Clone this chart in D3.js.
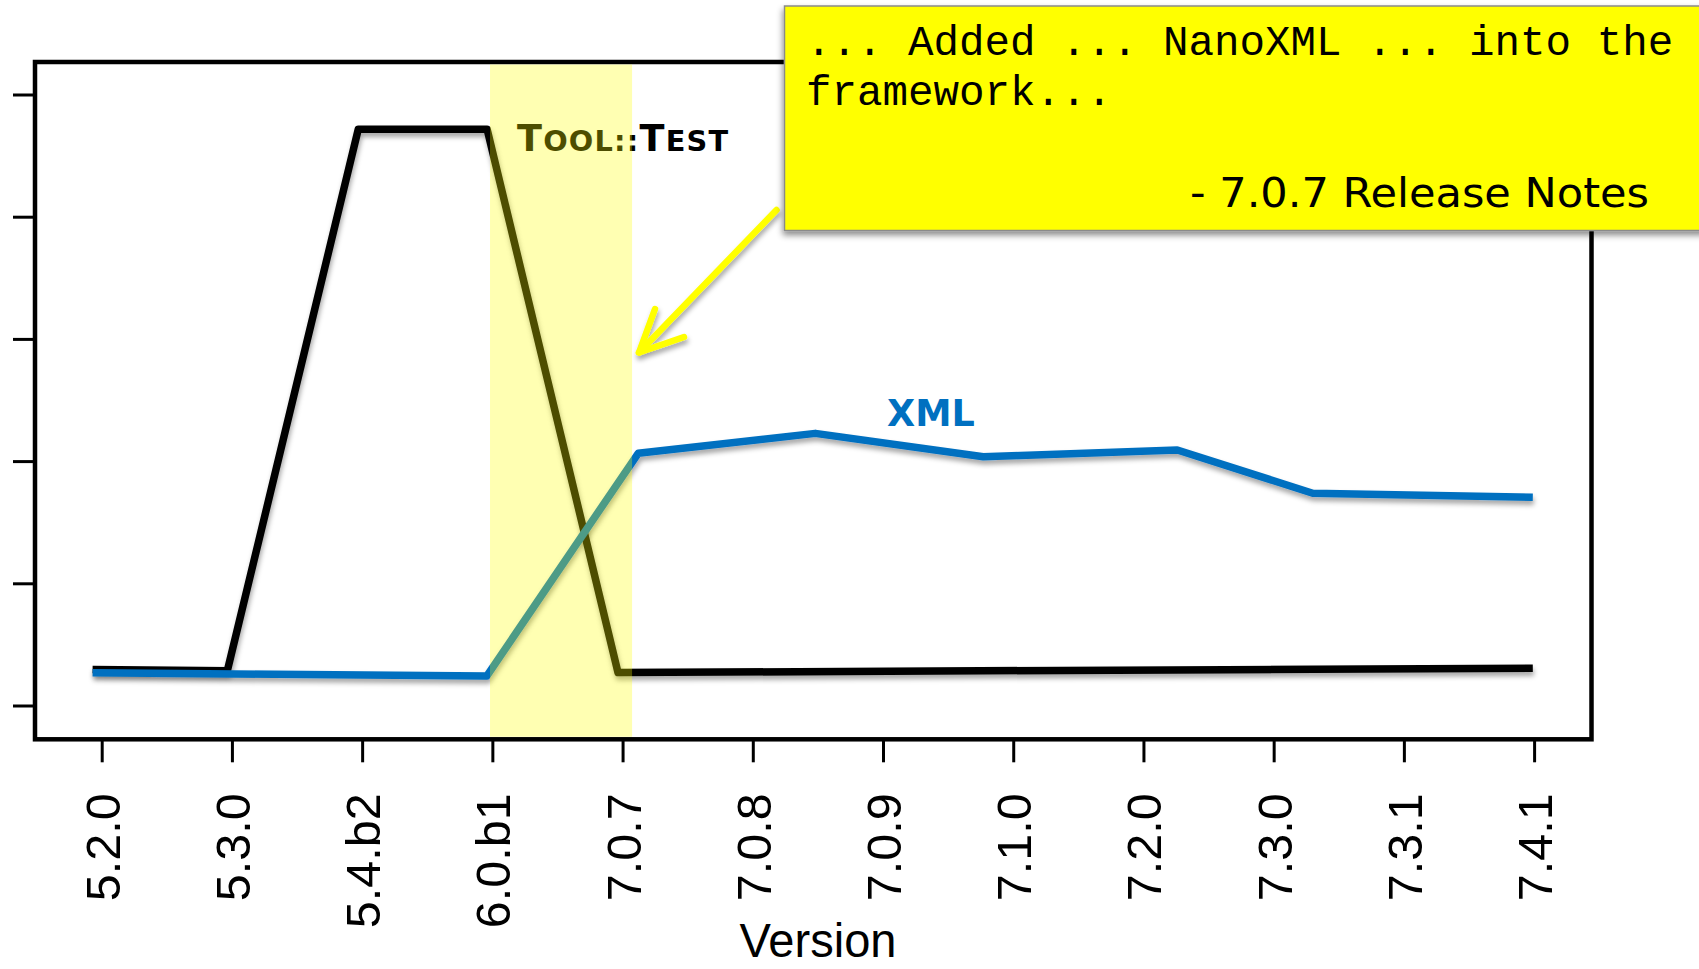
<!DOCTYPE html>
<html>
<head>
<meta charset="utf-8">
<script src="https://cdn.jsdelivr.net/npm/d3@7"></script>
<style>
  html, body { margin: 0; padding: 0; background: #ffffff; }
  svg { display: block; }
</style>
</head>
<body>
<script>
// Release versions along the x axis
const versions = ["5.2.0", "5.3.0", "5.4.b2", "6.0.b1", "7.0.7", "7.0.8",
                  "7.0.9", "7.1.0", "7.2.0", "7.3.0", "7.3.1", "7.4.1"];

// Unlabelled y-axis tick values
const yTicks = [0, 10, 20, 30, 40, 50];

// Tool::Test series: position along the version axis and value
const toolTestPos = [-0.07, 0.965, 1.97, 2.96, 3.965, 10.99];
const toolTestVal = [2.95, 2.85, 47.15, 47.15, 2.7, 3.05];

// XML series: position along the version axis and value
const xmlPos = [-0.07, 2.957, 4.12, 5.48, 6.77, 8.26, 9.30, 10.99];
const xmlVal = [2.68, 2.41, 20.64, 22.27, 20.36, 20.91, 17.37, 17.04];

// Highlighted span between 6.0.b1 and 7.0.7
const highlightSpan = [2.982, 4.073];

const W = 1699, H = 969;
const frame = { left: 35, top: 62, right: 1591.5, bottom: 739.3 };

const svg = d3.select("body").append("svg")
  .attr("width", W).attr("height", H);

const defs = svg.append("defs");
const shadow = defs.append("filter").attr("id", "lineShadow")
  .attr("x", "-5%").attr("y", "-10%").attr("width", "110%").attr("height", "130%");
shadow.append("feDropShadow").attr("dx", 1).attr("dy", 4)
  .attr("stdDeviation", 2.5).attr("flood-color", "#000").attr("flood-opacity", 0.35);

const boxShadow = defs.append("filter").attr("id", "boxShadow")
  .attr("x", "-5%").attr("y", "-10%").attr("width", "110%").attr("height", "130%");
boxShadow.append("feDropShadow").attr("dx", -1).attr("dy", 4)
  .attr("stdDeviation", 3).attr("flood-color", "#000").attr("flood-opacity", 0.45);

const x = d3.scaleLinear().domain([0, versions.length - 1]).range([101.7, 1534.1]);
const y = d3.scaleLinear().domain([0, 50]).range([705.5, 94.5]);

// Plot frame
svg.append("rect")
  .attr("x", frame.left).attr("y", frame.top)
  .attr("width", frame.right - frame.left).attr("height", frame.bottom - frame.top)
  .attr("fill", "#fff").attr("stroke", "#000").attr("stroke-width", 4.5);

// Left axis: ticks only
const yAxis = d3.axisLeft(y).tickValues(yTicks).tickSize(22).tickFormat(() => "");
const gy = svg.append("g").attr("transform", `translate(${frame.left},0)`).call(yAxis);
gy.select(".domain").remove();
gy.selectAll(".tick line").attr("stroke", "#000").attr("stroke-width", 3);

// Bottom axis with rotated version labels
const xAxis = d3.axisBottom(x).tickValues(d3.range(versions.length))
  .tickSize(23).tickFormat(i => versions[i]);
const gx = svg.append("g").attr("transform", `translate(0,${frame.bottom})`).call(xAxis);
gx.select(".domain").remove();
gx.selectAll(".tick line").attr("stroke", "#000").attr("stroke-width", 3);
gx.selectAll(".tick text")
  .attr("font-family", "'Liberation Sans', Arial, sans-serif")
  .attr("font-size", 48.5)
  .attr("fill", "#000")
  .attr("text-anchor", "end")
  .attr("transform", "translate(0,54) rotate(-90)")
  .attr("x", 0).attr("y", 0).attr("dy", "0.36em");

svg.append("text")
  .attr("x", 818).attr("y", 957)
  .attr("text-anchor", "middle")
  .attr("font-family", "'Liberation Sans', Arial, sans-serif")
  .attr("font-size", 48)
  .attr("textLength", 157).attr("lengthAdjust", "spacingAndGlyphs")
  .text("Version");

// Series lines
const line = d3.line().x(d => x(d[0])).y(d => y(d[1])).curve(d3.curveLinear);

const toolTest = toolTestPos.map((p, i) => [p, toolTestVal[i]]);
const xml = xmlPos.map((p, i) => [p, xmlVal[i]]);

svg.append("path").datum(toolTest)
  .attr("d", line).attr("fill", "none")
  .attr("stroke", "#000").attr("stroke-width", 7.5)
  .attr("stroke-linejoin", "round")
  .attr("filter", "url(#lineShadow)");

svg.append("path").datum(xml)
  .attr("d", line).attr("fill", "none")
  .attr("stroke", "#0070c0").attr("stroke-width", 7.5)
  .attr("stroke-linejoin", "round")
  .attr("filter", "url(#lineShadow)");

// Series labels
const tt = svg.append("text")
  .attr("x", 517).attr("y", 150.5)
  .attr("font-family", "'DejaVu Sans', Verdana, sans-serif")
  .attr("font-weight", "bold")
  .attr("letter-spacing", 1.2)
  .attr("fill", "#000");
[["T", 36.6], ["OOL::", 28.8], ["T", 36.6], ["EST", 28.8]].forEach(([s, fs]) => {
  tt.append("tspan").attr("font-size", fs).text(s);
});

svg.append("text")
  .attr("x", 887).attr("y", 425.7)
  .attr("font-family", "'DejaVu Sans', Verdana, sans-serif")
  .attr("font-weight", "bold")
  .attr("font-size", 36.5)
  .attr("fill", "#0070c0")
  .text("XML");

// Translucent highlight over the 6.0.b1 – 7.0.7 span
svg.append("rect")
  .attr("x", x(highlightSpan[0])).attr("y", frame.top + 2.5)
  .attr("width", x(highlightSpan[1]) - x(highlightSpan[0]))
  .attr("height", frame.bottom - frame.top - 5)
  .attr("fill", "rgb(255,255,0)").attr("fill-opacity", 0.3);

// Callout arrow
const arrow = svg.append("g").attr("filter", "url(#lineShadow)")
  .attr("stroke", "#ffff00").attr("stroke-width", 6.5)
  .attr("stroke-linecap", "round").attr("stroke-linejoin", "round").attr("fill", "none");
arrow.append("path").attr("d", "M776.5,210 L639,352.5");
arrow.append("path").attr("d", "M655,309 L639,352.5 L684,337");

// Release-note callout box
const box = svg.append("g");
box.append("rect")
  .attr("x", 784.5).attr("y", 6).attr("width", 940).attr("height", 224.5)
  .attr("fill", "#ffff00").attr("stroke", "#8a8a8a").attr("stroke-width", 1.5)
  .attr("filter", "url(#boxShadow)");

const mono = "'Courier New', 'Liberation Mono', 'DejaVu Sans Mono', monospace";
box.append("text").attr("x", 806).attr("y", 54.5)
  .attr("font-family", mono).attr("font-size", 42.5).attr("fill", "#000")
  .attr("xml:space", "preserve")
  .text("... Added ... NanoXML ... into the");
box.append("text").attr("x", 806).attr("y", 104.5)
  .attr("font-family", mono).attr("font-size", 42.5).attr("fill", "#000")
  .text("framework...");
box.append("text").attr("x", 1190).attr("y", 207)
  .attr("font-family", "'DejaVu Sans', Verdana, sans-serif")
  .attr("font-size", 41).attr("fill", "#000")
  .attr("textLength", 459).attr("lengthAdjust", "spacingAndGlyphs")
  .text("- 7.0.7 Release Notes");
</script>
</body>
</html>
